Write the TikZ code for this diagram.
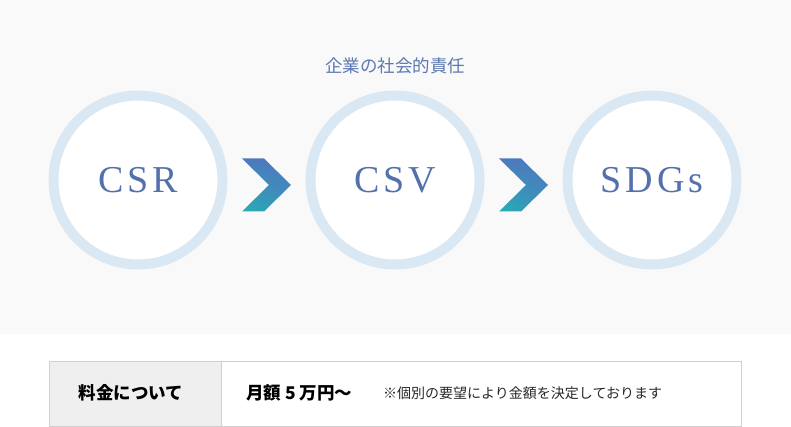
\documentclass[tikz,border=0pt]{standalone}
\usepackage{fontspec}
\usepackage{xcolor}
\usetikzlibrary{calc,shadings}
\setmainfont{Liberation Serif}
\newfontfamily\jpfont{Noto Sans CJK JP}
\newfontfamily\ltrfont[LetterSpace=10]{Liberation Serif}

\definecolor{bgpale}{RGB}{249,249,249}
\definecolor{ringblue}{RGB}{218,232,244}
\definecolor{textblue}{RGB}{84,113,173}
\definecolor{titleblue}{RGB}{92,120,178}
\definecolor{arrowtop}{RGB}{78,120,190}
\definecolor{arrowbot}{RGB}{36,176,180}
\definecolor{linegray}{RGB}{208,208,208}
\definecolor{cellgray}{RGB}{239,239,239}
\definecolor{notegray}{RGB}{40,40,40}

\tikzset{
  ring/.style={circle,draw=ringblue,line width=10pt,fill=white,minimum size=169pt,inner sep=0pt,
    text=textblue,font=\ltrfont\fontsize{38}{38}\selectfont},
  headcell/.style={font=\jpfont\bfseries\fontsize{17.5}{17.5}\selectfont,text=black}
}

% chevron centred at a coordinate
\newcommand{\chev}[1]{%
  \shade[upper right=arrowtop,upper left=arrowtop,lower left=arrowbot,lower right=arrowtop!60!arrowbot]
    ($(#1)+(-24.5,-26.5)$) -- ++(22,0) -- ++(27,26.5) -- ++(-27,26.5) -- ++(-22,0) -- ++(27,-26.5) -- cycle;}

\begin{document}
\begin{tikzpicture}[x=1pt,y=-1pt]
\useasboundingbox (0,0) rectangle (791,427);
\fill[bgpale] (0,0) rectangle (791,334);

\node[font=\jpfont\fontsize{17.5}{17.5}\selectfont,text=titleblue] (title) at (395,66) {企業の社会的責任};

\node[ring] (csr)  at (138,180) {CSR};
\node[ring] (csv)  at (395,180) {CSV};
\node[ring] (sdgs) at (652,180) {SDGs};

\coordinate (a1) at ($($(csr)!0.5!(csv)$)+(0,5)$);
\coordinate (a2) at ($($(csv)!0.5!(sdgs)$)+(0,5)$);
\chev{a1}
\chev{a2}

%price table
\draw[linegray,fill=cellgray] (49,361) rectangle (221,426);
\draw[linegray,fill=white] (221,361) rectangle (741,426);
\node[headcell] (pricehead) at (131,393) {料金について};
\node[headcell,anchor=west,inner sep=0pt] (price) at (246,393) {月額 5 万円〜};
\node[anchor=west,inner sep=0pt,text=notegray,font=\jpfont\fontsize{14}{14}\selectfont] (note) at (383,393) {※個別の要望により金額を決定しております};
\end{tikzpicture}
\end{document}
